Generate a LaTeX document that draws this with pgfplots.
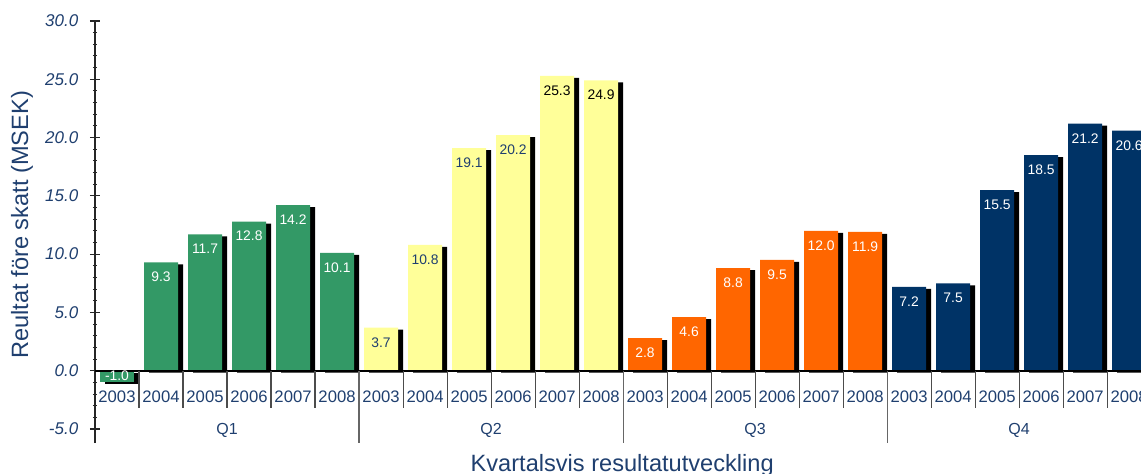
\documentclass[border=0pt]{standalone}
\usepackage{pgfplots}
\pgfplotsset{compat=1.18}
\usepackage{pgfplotstable}
\usepackage{fontspec}
\setmainfont{Liberation Sans}
\definecolor{cgreen}{HTML}{339966}
\definecolor{cyellow}{HTML}{FFFF99}
\definecolor{corange}{HTML}{FF6600}
\definecolor{cnavy}{HTML}{003366}
\definecolor{ctext}{HTML}{1F3F6F}
\pgfplotstableread{
x y
0 -1.0
}\qonea
\pgfplotstableread{
x y
1 9.3
2 11.7
3 12.8
4 14.2
5 10.1
}\qone
\pgfplotstableread{
x y
6 3.7
7 10.8
8 19.1
9 20.2
}\qtwoa
\pgfplotstableread{
x y
10 25.3
11 24.9
}\qtwob
\pgfplotstableread{
x y
12 2.8
13 4.6
14 8.8
15 9.5
16 12.0
17 11.9
}\qthree
\pgfplotstableread{
x y
18 7.2
19 7.5
20 15.5
21 18.5
22 21.2
23 20.6
}\qfour
\begin{document}
\begin{tikzpicture}
\begin{axis}[
  scale only axis,
  width=784.5pt, height=316.5pt,
  xmin=-0.5, xmax=23.27, ymin=-6.2, ymax=30,
  axis y line=left, axis x line=bottom,
  axis line style={-},
  x axis line style={draw=none},
  y axis line style={black!85, line width=0.9pt},
  ytick={-5,0,5,10,15,20,25,30},
  minor y tick num=4,
  ytick align=center,
  major tick length=7.5pt,
  minor tick length=3pt,
  every tick/.style={black!85, line width=0.8pt},
  yticklabel style={font=\fontsize{12.75}{15}\selectfont\itshape, text=ctext, xshift=-5.25pt,
    /pgf/number format/fixed, /pgf/number format/fixed zerofill,
    /pgf/number format/precision=1, /pgf/number format/assume math mode=true},
  xtick={0,...,23},
  xticklabels={2003,2004,2005,2006,2007,2008,2003,2004,2005,2006,2007,2008,2003,2004,2005,2006,2007,2008,2003,2004,2005,2006,2007,2008},
  xtick style={draw=none},
  xticklabel style={font=\fontsize{12.5}{15}\selectfont, text=ctext, anchor=center, yshift=38.25pt},
  bar width=25.5pt,
  xlabel={Kvartalsvis resultatutveckling},
  ylabel={Reultat före skatt (MSEK)},
  every axis x label/.style={at={(axis description cs:0.504,0)}, anchor=center, yshift=-17pt, font=\fontsize{17.7}{20}\selectfont, text=ctext},
  every axis y label/.style={at={(axis description cs:0,0.517)}, rotate=90, anchor=center, yshift=54.75pt, font=\fontsize{17.7}{20}\selectfont, text=ctext},
  lbl/.style={nodes near coords={\pgfmathprintnumber[fixed,fixed zerofill,precision=1,assume math mode=true]{\pgfplotspointmeta}},
    every node near coord/.style={anchor=center, yshift=-11pt, font=\fontsize{10.4}{12}\selectfont, text=#1}},
  shadow/.style={ybar, fill=black, draw=none, bar shift=3.75pt, yshift=-1.5pt, forget plot},
]
% shadows
\addplot[shadow] table {\qonea};
\addplot[shadow] table {\qone};
\addplot[shadow] table {\qtwoa};
\addplot[shadow] table {\qtwob};
\addplot[shadow] table {\qthree};
\addplot[shadow] table {\qfour};
% bars
\addplot[ybar, bar shift=0pt, fill=cgreen, draw=none,
  nodes near coords={\pgfmathprintnumber[fixed,fixed zerofill,precision=1,assume math mode=true]{\pgfplotspointmeta}},
  every node near coord/.style={anchor=center, yshift=5.25pt, font=\fontsize{10.4}{12}\selectfont, text=white}] table {\qonea};
\addplot[ybar, bar shift=0pt, fill=cgreen, draw=none, lbl=white] table {\qone};
\addplot[ybar, bar shift=0pt, fill=cyellow, draw=none, lbl=ctext] table {\qtwoa};
\addplot[ybar, bar shift=0pt, fill=cyellow, draw=none, lbl=black] table {\qtwob};
\addplot[ybar, bar shift=0pt, fill=corange, draw=none, lbl=white] table {\qthree};
\addplot[ybar, bar shift=0pt, fill=cnavy, draw=none, lbl=white] table {\qfour};
% x axis line at zero
\draw[black, line width=1.2pt] (axis cs:-0.5,0) -- (axis cs:23.27,0);
% separators
\pgfplotsinvokeforeach{0.5,1.5,2.5,3.5,4.5,6.5,7.5,8.5,9.5,10.5,12.5,13.5,14.5,15.5,16.5,18.5,19.5,20.5,21.5,22.5}{
  \draw[black!70, line width=0.8pt] (axis cs:#1,0) -- (axis cs:#1,-3.17);
}
\pgfplotsinvokeforeach{5.5,11.5,17.5}{
  \draw[black!60, line width=0.8pt] (axis cs:#1,0) -- (axis cs:#1,-6.2);
}
\node[font=\fontsize{12}{14}\selectfont, text=ctext] at (axis cs:2.5,-5.14) {Q1};
\node[font=\fontsize{12}{14}\selectfont, text=ctext] at (axis cs:8.5,-5.14) {Q2};
\node[font=\fontsize{12}{14}\selectfont, text=ctext] at (axis cs:14.5,-5.14) {Q3};
\node[font=\fontsize{12}{14}\selectfont, text=ctext] at (axis cs:20.5,-5.14) {Q4};
\coordinate (LL) at (rel axis cs:0,0);
\coordinate (UR) at (rel axis cs:1,1);
\end{axis}
\pgfresetboundingbox
\path ([xshift=-71.25pt,yshift=-23.25pt]LL) rectangle ([yshift=15.75pt]UR);
\end{tikzpicture}
\end{document}
